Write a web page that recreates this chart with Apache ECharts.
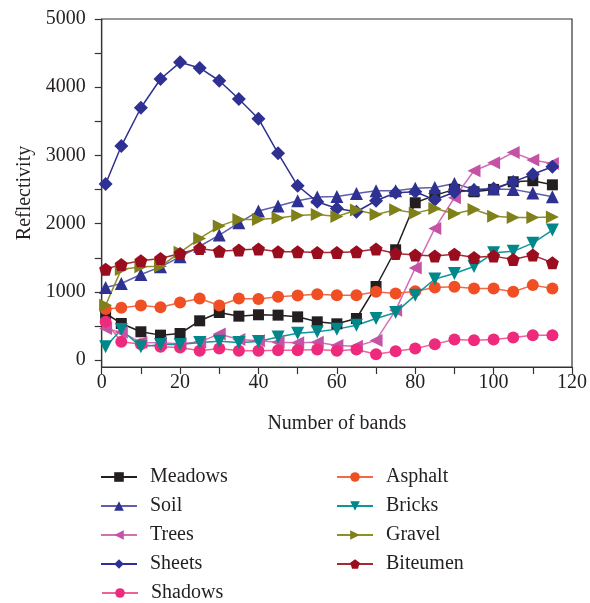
<!DOCTYPE html>
<html><head><meta charset="utf-8">
<script src="https://cdn.jsdelivr.net/npm/echarts@6/dist/echarts.min.js"></script>
<style>html,body{margin:0;padding:0;background:#fff}#c{width:590px;height:603px}</style>
</head><body><div id="c"></div>
<script>
const bands = [1,5,10,15,20,25,30,35,40,45,50,55,60,65,70,75,80,85,90,95,100,105,110,115];
const meadows = [684,538,416,367,391,577,699,645,665,660,635,562,533,611,1080,1618,2307,2415,2503,2468,2503,2615,2630,2570];
const soil = [1066,1124,1256,1368,1515,1670,1833,2013,2185,2260,2336,2390,2400,2444,2483,2483,2520,2530,2590,2500,2510,2503,2450,2395];
const trees = [464,410,260,254,240,265,385,303,283,262,254,262,215,205,290,733,1350,1931,2380,2776,2893,3042,2933,2884];
const sheets = [2581,3138,3699,4120,4365,4282,4095,3827,3539,3031,2556,2321,2224,2175,2336,2453,2468,2350,2460,2493,2517,2613,2725,2834];
const shadows = [562,269,235,195,186,137,171,137,137,147,147,156,137,156,88,132,171,235,303,293,303,333,367,367];
const asphalt = [750,767,800,777,846,905,802,905,898,930,948,965,950,953,1002,978,1010,1066,1075,1051,1051,1002,1100,1051];
const bricks = [195,450,195,230,230,259,279,259,275,340,395,416,455,513,610,700,950,1190,1271,1373,1573,1595,1715,1906];
const gravel = [806,1330,1370,1375,1580,1785,1965,2063,2060,2085,2120,2136,2105,2200,2136,2205,2155,2224,2145,2209,2110,2092,2092,2100];
const biteumen = [1334,1403,1456,1491,1564,1637,1598,1613,1630,1588,1588,1579,1579,1588,1628,1564,1540,1525,1554,1505,1525,1476,1540,1427];
const yTickLabels = [0,1000,2000,3000,4000,5000];
const yTicks = [0,500,1000,1500,2000,2500,3000,3500,4000,4500,5000];
const xTickLabels = [0,20,40,60,80,100,120];

const FONT = 'Liberation Serif';
const TXT = '#231f20';
const pent = 'path://M0,-10 L9.51,-3.09 L5.88,8.09 L-5.88,8.09 L-9.51,-3.09 Z';

const defs = [
  {name:'Meadows', data:meadows, sym:'rect', size:11, rot:0, mc:'#231f20', lc:'#231f20'},
  {name:'Soil', data:soil, sym:'triangle', size:13, rot:0, mc:'#2e3192', lc:'#5d5fae'},
  {name:'Trees', data:trees, sym:'triangle', size:13, rot:90, mc:'#c453a6', lc:'#d16fb8'},
  {name:'Sheets', data:sheets, sym:'diamond', size:14, rot:0, mc:'#2e3192', lc:'#2e3192'},
  {name:'Shadows', data:shadows, sym:'circle', size:12, rot:0, mc:'#ed2a7b', lc:'#f0609b'},
  {name:'Asphalt', data:asphalt, sym:'circle', size:12, rot:0, mc:'#f04e23', lc:'#f26a45'},
  {name:'Bricks', data:bricks, sym:'triangle', size:13, rot:180, mc:'#00878a', lc:'#10969a'},
  {name:'Gravel', data:gravel, sym:'triangle', size:13, rot:-90, mc:'#7f8019', lc:'#8e8f2a'},
  {name:'Biteumen', data:biteumen, sym:pent, size:13, rot:0, mc:'#9a0d1e', lc:'#a52a35'}
];

const series = defs.map(d => ({
  name: d.name, type: 'line',
  data: d.data.map((v,i) => [bands[i], v]),
  symbol: d.sym, symbolSize: d.size, symbolRotate: d.rot,
  itemStyle: {color: d.mc},
  lineStyle: {color: d.lc, width: 1.5},
  emphasis: {disabled: true},
  animation: false
}));

const legendPos = [
  [100,467],[100,496],[100,525],[100,554],[101,583],
  [336,467],[336,496],[336,525],[336,554]
];
const legends = defs.map((d,i) => ({
  data: [d.name], left: legendPos[i][0], top: legendPos[i][1],
  itemWidth: 36, itemHeight: 12, padding: 0,
  textStyle: {fontFamily: FONT, fontSize: 20, color: TXT, padding: [0,0,0,8]},
  selectedMode: false
}));

const chart = echarts.init(document.getElementById('c'), null, {renderer:'canvas'});
chart.setOption({
  backgroundColor: '#fff',
  animation: false,
  grid: {left: 101.7, right: 15.7, top: 19, bottom: 236, show: true, borderColor: '#333', borderWidth: 1.2, containLabel: false},
  legend: legends,
  xAxis: {
    type: 'value', min: 0, max: 120, interval: 10,
    name: 'Number of bands', nameLocation: 'middle', nameGap: 47,
    nameTextStyle: {fontFamily: FONT, fontSize: 20, color: TXT},
    axisLine: {show: true, onZero: false, lineStyle: {color: '#333', width: 1.2}},
    axisTick: {show: true, inside: false, length: 7, lineStyle: {color: '#333', width: 1.2}},
    axisLabel: {customValues: xTickLabels, fontFamily: FONT, fontSize: 20, color: TXT, margin: 6, formatter: v => String(v)},
    splitLine: {show: false}
  },
  yAxis: {
    type: 'value', min: -100, max: 5000,
    name: 'Reflectivity', nameLocation: 'middle', nameGap: 65, nameRotate: 90,
    nameTextStyle: {fontFamily: FONT, fontSize: 20, color: TXT},
    axisLine: {show: true, onZero: false, lineStyle: {color: '#333', width: 1.2}},
    axisTick: {show: true, inside: false, length: 7, customValues: yTicks, lineStyle: {color: '#333', width: 1.2}},
    axisLabel: {customValues: yTickLabels, fontFamily: FONT, fontSize: 20, color: TXT, margin: 16, formatter: v => String(v)},
    splitLine: {show: false}
  },
  series: series
});
</script></body></html>
